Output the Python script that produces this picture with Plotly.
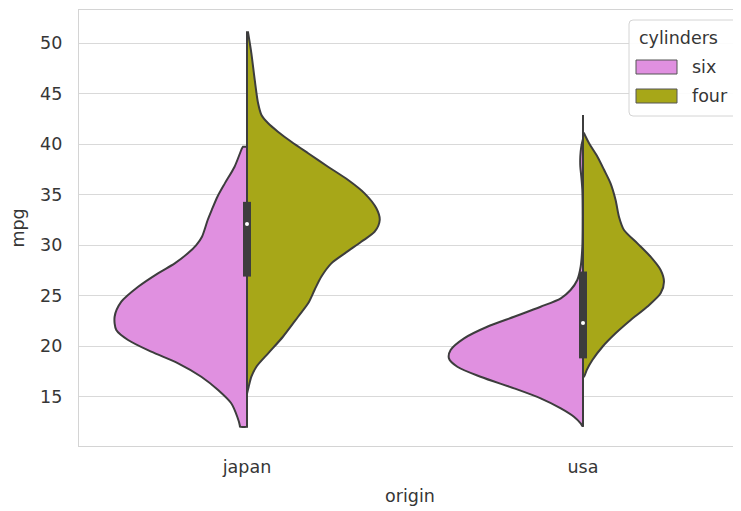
import plotly.graph_objects as go

# ---- data ----
origins = ["japan", "usa"]
cylinders = ["six", "four"]

# japan / six : mpg levels and half-width of the density (category units)
japan_six_mpg = [12.03, 12.10, 13.02, 14.35, 15.66, 16.98, 18.31, 19.46, 20.62, 21.61, 22.92, 24.41,
                 25.89, 27.22, 28.21, 29.20, 30.02, 30.85, 32.50, 33.49, 34.81, 36.13, 37.78, 39.60, 39.76]
japan_six_w = [0.021, 0.021, 0.029, 0.047, 0.086, 0.136, 0.205, 0.285, 0.354, 0.389, 0.394, 0.374,
               0.324, 0.265, 0.215, 0.176, 0.151, 0.134, 0.117, 0.105, 0.088, 0.066, 0.037, 0.015, 0.012]

# japan / four
japan_four_mpg = [15.30, 15.99, 16.98, 17.97, 19.30, 20.94, 22.92, 24.25, 25.57, 26.88, 28.21,
                  29.20, 30.35, 31.34, 32.50, 33.66, 35.14, 36.46, 37.78, 39.11, 40.25, 41.25,
                  42.08, 42.90, 44.06, 46.37, 49.01, 51.10]
japan_four_w = [0.000, 0.005, 0.013, 0.028, 0.063, 0.107, 0.152, 0.182, 0.201, 0.221, 0.251,
                0.291, 0.340, 0.380, 0.395, 0.385, 0.350, 0.301, 0.241, 0.182, 0.132, 0.092,
                0.063, 0.043, 0.033, 0.023, 0.013, 0.003]

# usa / six
usa_six_mpg = [12.10, 12.36, 13.02, 13.85, 14.84, 15.83, 16.98, 17.97, 18.80, 19.62, 20.78,
               21.93, 22.92, 23.91, 24.75, 25.57, 26.56, 27.87, 29.86, 32.50, 35.50, 36.80,
               37.80, 38.80, 39.80, 40.40]
usa_six_w = [0.002, 0.007, 0.027, 0.066, 0.126, 0.205, 0.305, 0.374, 0.399, 0.394, 0.354,
             0.285, 0.205, 0.126, 0.066, 0.037, 0.017, 0.007, 0.002, 0.001, 0.002, 0.005,
             0.008, 0.008, 0.005, 0.001]

# usa / four
usa_four_mpg = [16.98, 17.64, 18.63, 19.95, 21.28, 22.60, 23.91, 25.24, 26.39, 27.55, 28.87,
                30.19, 31.51, 32.83, 34.48, 36.13, 37.45, 38.77, 40.10, 41.09]
usa_four_w = [0.003, 0.011, 0.028, 0.058, 0.097, 0.142, 0.191, 0.231, 0.241, 0.231, 0.201,
              0.162, 0.122, 0.107, 0.097, 0.082, 0.063, 0.043, 0.018, 0.003]

# inner box (both hues pooled) per origin
box_q1 = [26.9, 18.8]
box_q3 = [34.3, 27.4]
box_median = [32.1, 22.3]
whisker_low = [15.5, 15.4]
whisker_high = [51.0, 42.9]

y_ticks = [15, 20, 25, 30, 35, 40, 45, 50]

# ---- styling ----
colors = {"six": "#E090E0", "four": "#A7A718"}
edge = "#3d3d3d"
txt = "#363636"
FS = 17.5

# figure geometry (page body has an 8px margin)
W, H = 733, 503
ML, MR, MT, MB = 71, 0, 2, 65
PW, PH = W - ML - MR, H - MT - MB

fig = go.Figure()


def half(pos, mpg, w, side, name):
    sgn = -1 if side == "left" else 1
    edge_x = [pos + sgn * v for v in w]
    xs = [pos] + [pos] + edge_x + [edge_x[-1]] + [pos, pos] + [pos] * len(mpg) + [pos]
    ys = [mpg[0]] + [mpg[0]] + list(mpg) + [mpg[-1]] + [mpg[-1], mpg[-1]] + list(mpg)[::-1] + [mpg[0]]
    fig.add_trace(go.Scatter(
        x=xs, y=ys, mode="lines", fill="toself", fillcolor=colors[name],
        line=dict(color=edge, width=2, shape="spline", smoothing=0.8),
        name=name, showlegend=False, hoverinfo="skip"))


half(0, japan_six_mpg, japan_six_w, "left", "six")
half(0, japan_four_mpg, japan_four_w, "right", "four")
half(1, usa_six_mpg, usa_six_w, "left", "six")
half(1, usa_four_mpg, usa_four_w, "right", "four")

for i, o in enumerate(origins):
    fig.add_trace(go.Scatter(x=[i, i], y=[whisker_low[i], whisker_high[i]], mode="lines",
                             line=dict(color=edge, width=2), showlegend=False, hoverinfo="skip"))
    fig.add_trace(go.Scatter(x=[i, i], y=[box_q1[i], box_q3[i]], mode="lines",
                             line=dict(color=edge, width=8), showlegend=False, hoverinfo="skip"))
    fig.add_trace(go.Scatter(x=[i], y=[box_median[i]], mode="markers",
                             marker=dict(color="white", size=4, symbol="circle"),
                             showlegend=False, hoverinfo="skip"))

font = dict(family="DejaVu Sans", size=FS, color=txt)


# ---- legend drawn as shapes + text (window pixel positions -> paper coords) ----
def px(wx):
    return (wx - 8 - ML) / PW


def py(wy):
    return (H - MB - (wy - 8)) / PH


def rounded_rect(x0, y0, x1, y1, r):
    # window pixel box -> paper path with rounded corners
    ax0, ax1 = px(x0), px(x1)
    ay0, ay1 = py(y1), py(y0)  # bottom, top in paper
    rx, ry = r / PW, r / PH
    return (f"M{ax0 + rx},{ay1} L{ax1 - rx},{ay1} Q{ax1},{ay1} {ax1},{ay1 - ry} "
            f"L{ax1},{ay0 + ry} Q{ax1},{ay0} {ax1 - rx},{ay0} "
            f"L{ax0 + rx},{ay0} Q{ax0},{ay0} {ax0},{ay0 + ry} "
            f"L{ax0},{ay1 - ry} Q{ax0},{ay1} {ax0 + rx},{ay1} Z")


shapes = [dict(type="path", xref="paper", yref="paper",
               path=rounded_rect(629, 20, 740, 116, 4),
               fillcolor="rgba(255,255,255,0.9)", line=dict(color="#d4d4d4", width=1), layer="above")]
annotations = [dict(text="cylinders", xref="paper", yref="paper", x=px(637), y=py(38),
                    xanchor="left", yanchor="middle", showarrow=False, font=font)]
patch_y = [(60, 74), (89, 103)]
for name, (ya, yb) in zip(cylinders, patch_y):
    shapes.append(dict(type="rect", xref="paper", yref="paper",
                       x0=px(636), x1=px(677), y0=py(yb), y1=py(ya),
                       fillcolor=colors[name], line=dict(color="#555555", width=1), layer="above"))
    annotations.append(dict(text=name, xref="paper", yref="paper", x=px(690), y=py((ya + yb) / 2),
                            xanchor="left", yanchor="middle", showarrow=False, font=font))

fig.update_layout(
    width=W, height=H,
    margin=dict(l=ML, r=MR, t=MT, b=MB, autoexpand=False),
    plot_bgcolor="white", paper_bgcolor="white",
    font=font, showlegend=False,
    shapes=shapes, annotations=annotations,
    xaxis=dict(
        range=[-0.5, -0.5 + PW / 336.0], tickvals=[0, 1], ticktext=origins,
        showgrid=False, zeroline=False, automargin=False,
        showline=True, linecolor="#d4d4d4", linewidth=1.2, mirror=True,
        ticks="outside", ticklen=0, ticklabelstandoff=5,
        tickfont=font,
        title=dict(text="origin", standoff=13, font=font),
    ),
    yaxis=dict(
        range=[10.12, 53.3], tickvals=y_ticks,
        showgrid=True, gridcolor="#d9d9d9", gridwidth=1.2, zeroline=False, automargin=False,
        showline=True, linecolor="#d4d4d4", linewidth=1.2, mirror=False,
        ticks="outside", ticklen=0, ticklabelstandoff=12,
        tickfont=font,
        title=dict(text="mpg", standoff=18, font=font),
    ),
)

fig.write_html("out.html")
